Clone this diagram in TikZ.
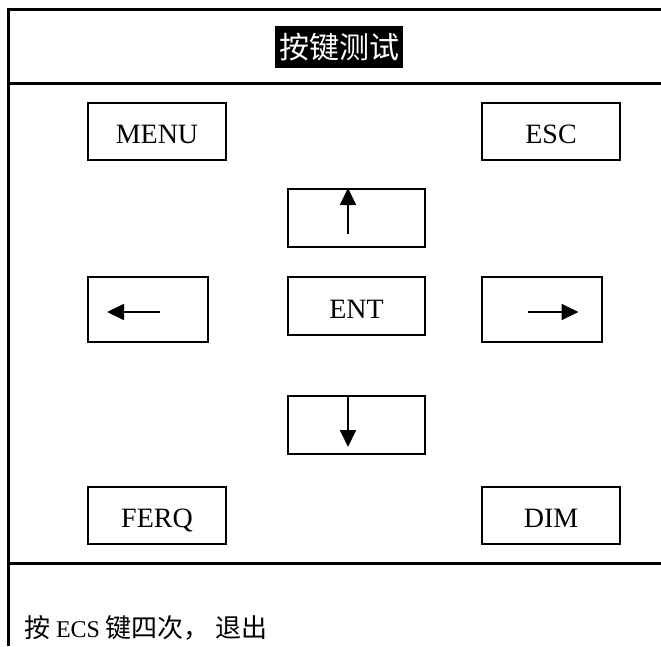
\documentclass[tikz,border=0pt]{standalone}
\usepackage{fontspec}
\setmainfont{Liberation Serif}
\newfontfamily\cjk{Noto Sans CJK SC}
\usetikzlibrary{arrows.meta,positioning,calc}

\begin{document}
\begin{tikzpicture}[x=1pt,y=-1pt,
    frame/.style={line width=3pt},
    key/.style={rectangle,draw,line width=2pt,minimum width=138pt,minimum height=57pt,inner sep=0pt,text height=24.5pt,text depth=0pt,font=\fontsize{28}{30}\selectfont},
    pad/.style={key,minimum width=137pt,minimum height=58pt},
    side/.style={key,minimum width=120pt,minimum height=65pt},
    dir/.style={line width=1.8pt,-{Triangle[length=17pt,width=16pt]}}]
    \useasboundingbox(0,0)rectangle(661,646);
    % frame
    \draw[frame](661,9)--(8,9)--(8,646);
    \draw[frame](8,83)--(661,83);
    \draw[frame](8,563)--(661,563);
    \node[fill=black,text=white,minimum width=128pt,minimum height=42pt,inner sep=0pt,font=\cjk\fontsize{30}{30}\selectfont](title)at(339,47){按键测试};
    % keys
    \node[key](menu)at(157,131.5){MENU};
    \node[key](esc)at(551,131.5){ESC};
    \node[pad](up)at(356.5,218){};
    \node[side](left)at(148,309.5){};
    \node[pad](ent)at(356.5,306){ENT};
    \node[side](right)at(541.5,309.5){};
    \node[pad](down)at(356.5,425){};
    \node[key](ferq)at(157,515.5){FERQ};
    \node[key](dim)at(551,515.5){DIM};
    \draw[dir]([xshift=-8.5pt,yshift=14pt]up.south)--([xshift=-8.5pt]up.north);
    \draw[dir]([xshift=-8.5pt]down.north)--([xshift=-8.5pt,yshift=8pt]down.south);
    \draw[dir]([xshift=12pt,yshift=-2.5pt]left.center)--([xshift=20pt,yshift=-2.5pt]left.west);
    \draw[dir]([xshift=-13.5pt,yshift=-2.5pt]right.center)--([xshift=-24pt,yshift=-2.5pt]right.east);
    \node[anchor=base west,inner sep=0pt,font=\cjk\fontsize{26}{26}\selectfont](note)at(24,637){按 {\rmfamily\fontsize{24}{24}\selectfont ECS} 键四次，\ 退出};
\end{tikzpicture}
\end{document}
